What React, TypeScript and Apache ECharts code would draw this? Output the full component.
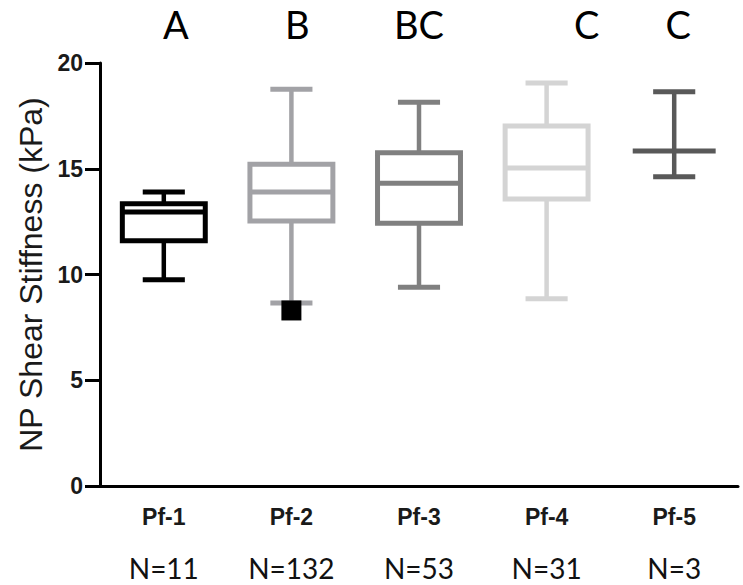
import React, { useEffect, useRef } from "react";
import * as echarts from "echarts";

const categories = ["Pf-1", "Pf-2", "Pf-3", "Pf-4", "Pf-5"];
const nLabels = ["N=11", "N=132", "N=53", "N=31", "N=3"];
const groupLetters = ["A", "B", "BC", "C", "C"];
const mins = [9.75, 8.65, 9.4, 8.85, 14.62];
const q1s = [11.6, 12.53, 12.42, 13.57, 15.84];
const medians = [12.95, 13.9, 14.31, 15.04, 15.84];
const q3s = [13.35, 15.21, 15.76, 17.02, 15.84];
const maxs = [13.9, 18.76, 18.14, 19.05, 18.64];
const outlierCats = ["Pf-2"];
const outlierValues = [8.3];
const yTicks = [0, 5, 10, 15, 20];

// styles
const boxColors = ["#000000", "#a2a2a6", "#808080", "#d4d4d4", "#595959"];
const letterOffsets = [12, 6, 0, 40, 4];

export default function App() {
  const ref = useRef<HTMLDivElement>(null);
  useEffect(() => {
    if (!ref.current) return;
    const chart = echarts.init(ref.current, undefined, { renderer: "svg" });
    const boxData = categories.map((c, i) => [i, mins[i], q1s[i], medians[i], q3s[i], maxs[i]]);
    chart.setOption({
      animation: false,
      backgroundColor: "#ffffff",
      grid: { left: 100, right: 5, top: 63, bottom: 99, containLabel: false },
      xAxis: [
        {
          type: "category",
          data: categories,
          boundaryGap: true,
          axisLine: { lineStyle: { color: "#000", width: 3 } },
          axisTick: { alignWithLabel: true, length: 12, lineStyle: { color: "#000", width: 3 } },
          axisLabel: {
            margin: 19,
            fontFamily: "Liberation Sans, Arial, sans-serif",
            fontWeight: "bold",
            fontSize: 23,
            color: "#1a1a1a",
          },
        },
        {
          type: "category",
          data: nLabels,
          position: "bottom",
          boundaryGap: true,
          axisLine: { show: false },
          axisTick: { show: false },
          axisLabel: {
            margin: 67,
            fontFamily: "Lato, Open Sans, sans-serif",
            fontSize: 28,
            lineHeight: 30,
            color: "#111",
          },
        },
      ],
      yAxis: {
        type: "value",
        min: 0,
        max: 20,
        interval: 5,
        name: "NP Shear Stiffness (kPa)",
        nameLocation: "middle",
        nameGap: 52,
        nameTextStyle: {
          fontFamily: "Liberation Sans, Arial, sans-serif",
          fontSize: 32,
          color: "#1a1a1a",
        },
        axisLine: { show: true, lineStyle: { color: "#000", width: 3 } },
        axisTick: { show: true, length: 15, lineStyle: { color: "#000", width: 3 } },
        splitLine: { show: false },
        axisLabel: {
          margin: 17,
          fontFamily: "Liberation Sans, Arial, sans-serif",
          fontWeight: "bold",
          fontSize: 23,
          color: "#1a1a1a",
          formatter: (v: number) => (yTicks.includes(v) ? String(v) : ""),
        },
      },
      series: [
        {
          type: "custom",
          xAxisIndex: 0,
          data: boxData,
          encode: { x: 0, y: [1, 2, 3, 4, 5] },
          renderItem: (params: any, api: any) => {
            const i = api.value(0);
            const band = api.size([1, 0])[0];
            const bw = band * 0.65;
            const cw = band * 0.33;
            const [x, yMin] = api.coord([i, api.value(1)]);
            const yQ1 = api.coord([i, api.value(2)])[1];
            const yMed = api.coord([i, api.value(3)])[1];
            const yQ3 = api.coord([i, api.value(4)])[1];
            const yMax = api.coord([i, api.value(5)])[1];
            const color = boxColors[params.dataIndex];
            const ls = { stroke: color, lineWidth: 4.5, fill: "none" };
            const children: any[] = [
              { type: "line", shape: { x1: x, y1: yQ3, x2: x, y2: yMax }, style: ls },
              { type: "line", shape: { x1: x, y1: yQ1, x2: x, y2: yMin }, style: ls },
              { type: "line", shape: { x1: x - cw / 2, y1: yMax, x2: x + cw / 2, y2: yMax }, style: { ...ls, lineWidth: 5 } },
              { type: "line", shape: { x1: x - cw / 2, y1: yMin, x2: x + cw / 2, y2: yMin }, style: { ...ls, lineWidth: 5 } },
            ];
            if (Math.abs(yQ1 - yQ3) > 0.5) {
              children.push({
                type: "rect",
                shape: { x: x - bw / 2, y: yQ3, width: bw, height: yQ1 - yQ3 },
                style: { stroke: color, lineWidth: 5, fill: "#ffffff" },
              });
            }
            children.push({
              type: "line",
              shape: { x1: x - bw / 2, y1: yMed, x2: x + bw / 2, y2: yMed },
              style: { ...ls, lineWidth: 5 },
            });
            return { type: "group", children };
          },
          z: 2,
        },
        {
          type: "scatter",
          xAxisIndex: 0,
          data: outlierCats.map((c, k) => [c, outlierValues[k]]),
          symbol: "rect",
          symbolSize: 20,
          itemStyle: { color: "#000", opacity: 1 },
          z: 5,
        },
      ],
    });
    const graphics = groupLetters.map((t, i) => {
      const px = chart.convertToPixel({ xAxisIndex: 0 }, categories[i]) as number;
      return {
        type: "text",
        x: px + letterOffsets[i],
        y: 23.5,
        style: {
          text: t,
          fontFamily: "Lato, Open Sans, sans-serif",
          fontSize: 38,
          fill: "#000",
          textAlign: "center",
          textVerticalAlign: "middle",
        },
      };
    });
    chart.setOption({ graphic: graphics });
    return () => chart.dispose();
  }, []);
  return <div ref={ref} style={{ width: 743, height: 585, position: "absolute", left: 0, top: 0 }} />;
}
